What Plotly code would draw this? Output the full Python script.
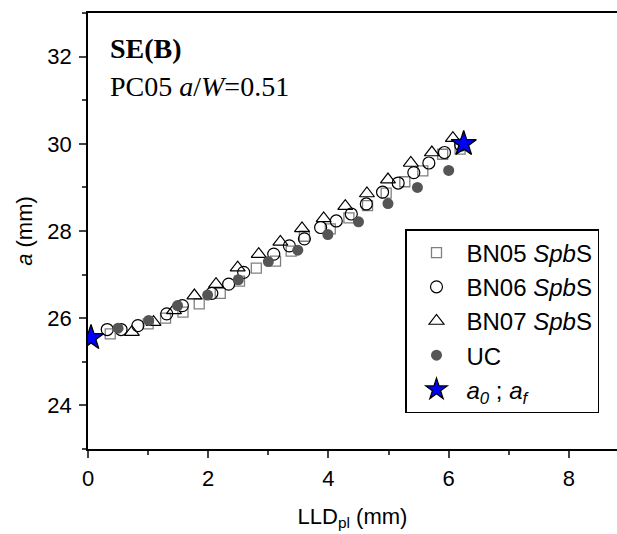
import plotly.graph_objects as go

# BN05 SpbS (open squares)
bn05_x = [0.37, 1.00, 1.29, 1.58, 1.85, 2.20, 2.52, 2.80, 3.12, 3.38, 3.60, 4.03, 4.34, 4.65, 4.96, 5.27, 5.57, 5.90, 6.19]
bn05_a = [25.64, 25.87, 26.00, 26.14, 26.33, 26.57, 26.85, 27.15, 27.31, 27.54, 27.88, 28.05, 28.30, 28.58, 28.87, 29.13, 29.38, 29.76, 29.88]
# BN06 SpbS (open circles)
bn06_x = [0.32, 0.55, 0.83, 1.31, 1.57, 2.06, 2.34, 2.59, 3.09, 3.35, 3.60, 3.87, 4.13, 4.38, 4.63, 4.90, 5.16, 5.42, 5.67, 5.93, 6.20]
bn06_a = [25.74, 25.74, 25.83, 26.10, 26.29, 26.57, 26.78, 27.05, 27.47, 27.66, 27.82, 28.08, 28.23, 28.39, 28.62, 28.89, 29.10, 29.34, 29.56, 29.80, 29.97]
# BN07 SpbS (open triangles)
bn07_x = [0.73, 1.09, 1.43, 1.77, 2.13, 2.49, 2.84, 3.20, 3.56, 3.92, 4.28, 4.64, 4.99, 5.37, 5.72, 6.07]
bn07_a = [25.68, 25.91, 26.18, 26.52, 26.78, 27.16, 27.47, 27.75, 28.06, 28.29, 28.57, 28.86, 29.18, 29.56, 29.80, 30.13]
# UC (filled circles)
uc_x = [0.50, 1.01, 1.49, 1.99, 2.50, 3.00, 3.49, 3.99, 4.50, 4.99, 5.48, 6.00]
uc_a = [25.77, 25.95, 26.29, 26.53, 26.88, 27.30, 27.56, 27.92, 28.21, 28.63, 29.00, 29.39]
# a0 ; af (stars)
star_x = [0.05, 6.25]
star_a = [25.55, 30.00]

x_ticks = [0, 2, 4, 6, 8]
y_ticks = [24, 26, 28, 30, 32]

fig = go.Figure()
fig.add_trace(go.Scatter(x=bn05_x, y=bn05_a, mode="markers", name="BN05 <i>Spb</i>S",
                         marker=dict(symbol="square-open", size=10, color="#808080", line=dict(width=1.3))))
fig.add_trace(go.Scatter(x=bn06_x, y=bn06_a, mode="markers", name="BN06 <i>Spb</i>S",
                         marker=dict(symbol="circle-open", size=12, color="black", line=dict(width=1.2))))
fig.add_trace(go.Scatter(x=bn07_x, y=bn07_a, mode="markers", name="BN07 <i>Spb</i>S",
                         marker=dict(symbol="triangle-up-open", size=13, color="black", line=dict(width=1.2))))
fig.add_trace(go.Scatter(x=uc_x, y=uc_a, mode="markers", name="UC",
                         marker=dict(symbol="circle", size=11, color="#555555", line=dict(width=0))))
fig.add_trace(go.Scatter(x=star_x, y=star_a, mode="markers", name="<i>a<sub>0</sub></i> ; <i>a<sub>f</sub></i>",
                         marker=dict(symbol="star", size=19, color="#0000ff", line=dict(width=1.3, color="black"))))

axis_font = dict(family="Liberation Sans, Arial", size=22, color="black")

W, H = 617, 534
L, T, R, B = 88, 13, 0, 534 - 449
PW, PH = W - L - R, H - T - B

fig.update_layout(
    width=W, height=H,
    margin=dict(l=L, r=R, t=T, b=B, pad=0),
    plot_bgcolor="white", paper_bgcolor="white",
    showlegend=True,
    legend=dict(x=(405 - 88) / PW, y=1 - (229 - 13) / PH, xanchor="left", yanchor="top",
                bordercolor="black", borderwidth=1.5, bgcolor="white", itemwidth=50,
                font=dict(family="Liberation Sans, Arial", size=24, color="black")),
    xaxis=dict(range=[0, 8.8], tickvals=x_ticks, ticks="outside", ticklen=7, tickwidth=1.5,
               showline=True, linecolor="black", linewidth=1.5, mirror=True,
               showgrid=False, zeroline=False, tickfont=axis_font, ticklabelstandoff=2,
               minor=dict(dtick=1, tick0=0, ticks="outside", ticklen=4, tickwidth=1.5, showgrid=False),
               title=dict(text="LLD<sub>pl</sub> (mm)", font=axis_font, standoff=18)),
    yaxis=dict(range=[23, 33], tickvals=y_ticks, ticks="outside", ticklen=7, tickwidth=1.5,
               showline=True, linecolor="black", linewidth=1.5, mirror=False,
               showgrid=False, zeroline=False, tickfont=axis_font, ticklabelstandoff=3,
               minor=dict(dtick=1, tick0=0, ticks="outside", ticklen=4, tickwidth=1.5, showgrid=False),
               title=dict(text="<i>a</i> (mm)", font=axis_font, standoff=9)),
)

serif = dict(family="Liberation Serif, Times New Roman", size=28, color="black")
fig.add_annotation(x=(108 - 88) / PW, y=1 - (48 - 13) / PH, xref="paper", yref="paper",
                   text="<b>SE(B)</b>", showarrow=False, font=serif,
                   xanchor="left", yanchor="middle")
fig.add_annotation(x=(108 - 88) / PW, y=1 - (86 - 13) / PH, xref="paper", yref="paper",
                   text="PC05 <i>a</i>/<i>W</i>=0.51", showarrow=False, font=serif,
                   xanchor="left", yanchor="middle")

fig.write_html("out.html", config={"displayModeBar": False},
               post_script="document.body.style.margin='0px';document.body.style.overflow='hidden';")
